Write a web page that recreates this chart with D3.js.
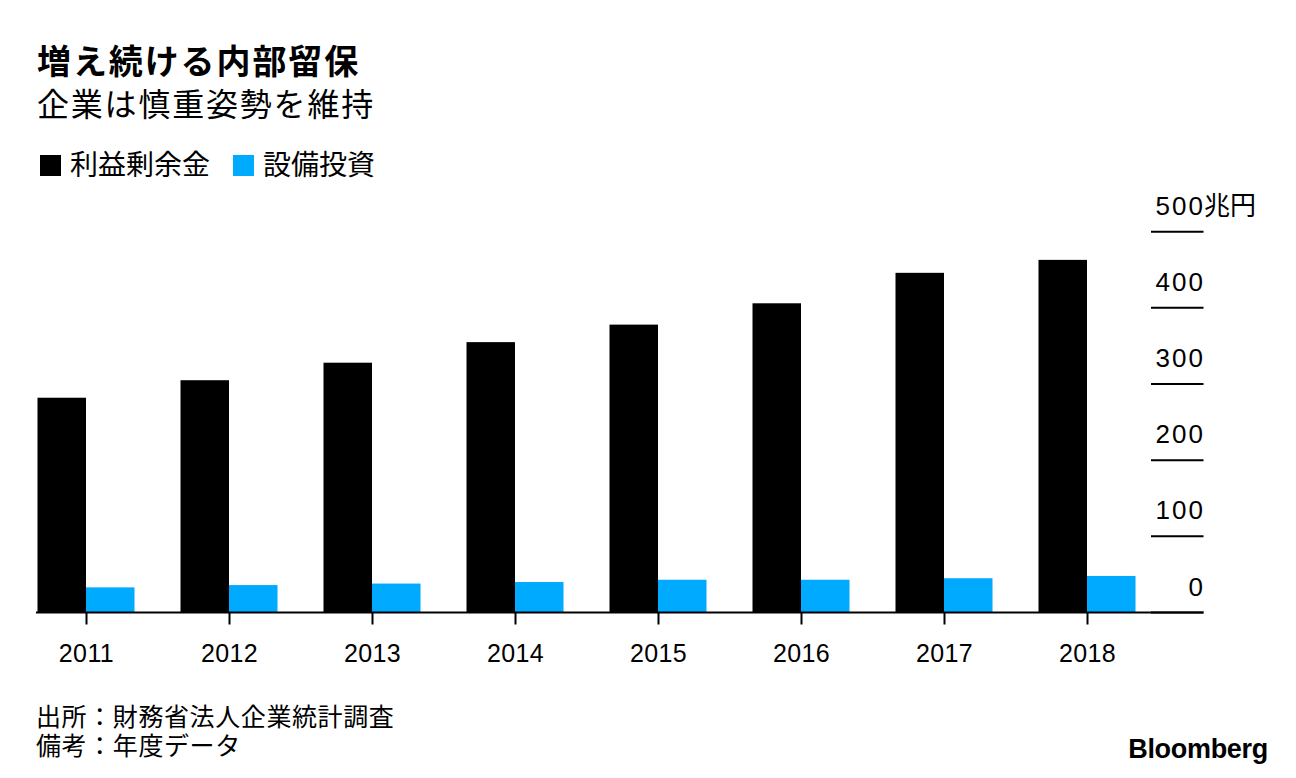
<!DOCTYPE html>
<html><head><meta charset="utf-8">
<script src="https://cdn.jsdelivr.net/npm/d3@7"></script>
<style>
html,body{margin:0;padding:0;background:#fff;}
svg{display:block;}
text{font-family:"Liberation Sans","Noto Sans CJK JP",sans-serif;fill:#000;}
.jp{font-family:"Noto Sans CJK JP","Liberation Sans",sans-serif;}
.note{font-family:"Liberation Sans","Noto Sans CJK JP",sans-serif;}
</style></head>
<body>
<script>
const years = ["2011","2012","2013","2014","2015","2016","2017","2018"];
const retainedEarnings = [282, 305, 328, 355, 378, 406, 446, 463];
const capex = [33, 36, 38, 40, 43, 43, 45, 48];
const seriesNames = ["利益剰余金", "設備投資"];
const seriesColors = ["#000000", "#00aaff"];
const yTicks = [0, 100, 200, 300, 400, 500];
const unitLabel = "兆円";
const title = "増え続ける内部留保";
const subtitle = "企業は慎重姿勢を維持";
const notes = ["出所：財務省法人企業統計調査", "備考：年度データ"];

const W = 1296, H = 778;
const svg = d3.select("body").append("svg").attr("width", W).attr("height", H);

// titles
svg.append("text").attr("class","jp").attr("x",37).attr("y",73.5)
  .attr("font-size",34).attr("font-weight",700).attr("letter-spacing",1.9).text(title);
svg.append("text").attr("class","jp").attr("x",37).attr("y",116)
  .attr("font-size",32).attr("letter-spacing",1.8).text(subtitle);

// legend
const lg = svg.append("g");
const legendX = [40, 233];
seriesNames.forEach((n,i)=>{
  lg.append("rect").attr("x",legendX[i]).attr("y",155).attr("width",21).attr("height",21).attr("fill",seriesColors[i]);
  lg.append("text").attr("class","jp").attr("x",legendX[i]+30).attr("y",175)
    .attr("font-size",28).text(n);
});

// scales
const y = d3.scaleLinear().domain([0,500]).range([612.5, 231.7]);
const x = d3.scalePoint().domain(years).range([86, 1087]);
const sub = d3.scaleBand().domain([0,1]).range([-48.5, 48.5]);

// bars
const data = years.map((yr,i)=>({year:yr, vals:[retainedEarnings[i], capex[i]]}));
const groups = svg.append("g").selectAll("g").data(data).join("g")
  .attr("transform", d=>`translate(${x(d.year)},0)`);
groups.selectAll("rect").data(d=>d.vals.map((v,k)=>({v,k}))).join("rect")
  .attr("x", d=>sub(d.k)).attr("width", sub.bandwidth())
  .attr("y", d=>y(d.v)).attr("height", d=>y(0)-y(d.v))
  .attr("fill", d=>seriesColors[d.k]);

// right axis gridlines and labels
const ya = svg.append("g");
ya.selectAll("line").data(yTicks).join("line")
  .attr("x1",1151).attr("x2",1203.5)
  .attr("y1",d=>y(d)).attr("y2",d=>y(d))
  .attr("stroke","#000").attr("stroke-width",2);
ya.selectAll("text.num").data(yTicks).join("text").attr("class","num")
  .attr("x",1205).attr("y",d=>y(d)-17).attr("text-anchor","end")
  .attr("font-size",26).attr("letter-spacing",2).text(d=>d);
ya.append("text").attr("class","jp").attr("x",1204).attr("y",y(500)-17)
  .attr("font-size",26).text(unitLabel);

// baseline + x axis
svg.append("line").attr("x1",36).attr("x2",1203.5).attr("y1",y(0)).attr("y2",y(0))
  .attr("stroke","#000").attr("stroke-width",2);
const xAxis = d3.axisBottom(x).tickSize(12).tickPadding(18);
const xg = svg.append("g").attr("transform",`translate(0,${y(0)})`).call(xAxis);
xg.select(".domain").remove();
xg.selectAll(".tick line").attr("stroke","#000").attr("stroke-width",2);
xg.selectAll(".tick text").attr("font-size",25).attr("fill","#000").attr("letter-spacing",0.4)
  .attr("font-family","Liberation Sans, sans-serif").attr("dy",null).attr("y",49.5);

// notes
notes.forEach((t,i)=>{
  svg.append("text").attr("class","note").attr("x",36).attr("y",726+i*28.5)
    .attr("font-size",25).attr("letter-spacing",0.6).text(t);
});

// logo
svg.append("text").attr("x",1268).attr("y",758).attr("text-anchor","end")
  .attr("font-size",27).attr("font-weight",700).attr("letter-spacing",-0.3)
  .attr("font-family","Liberation Sans, sans-serif").text("Bloomberg");
</script>
</body></html>
